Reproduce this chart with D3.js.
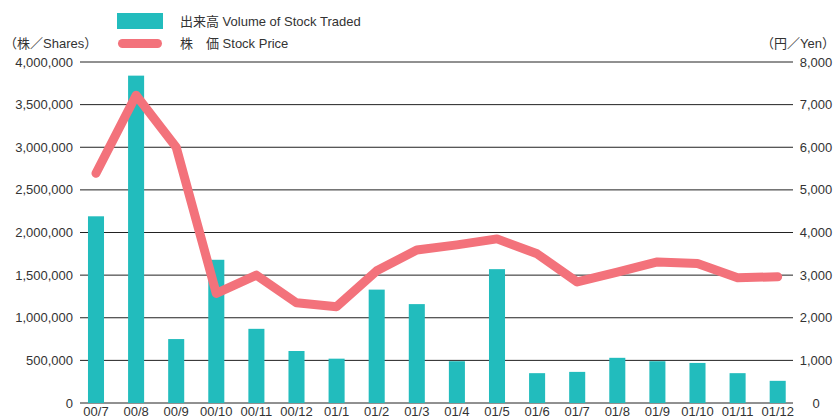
<!DOCTYPE html>
<html>
<head>
<meta charset="utf-8">
<script src="https://cdn.jsdelivr.net/npm/d3@7/dist/d3.min.js"></script>
<style>
  html, body { margin: 0; padding: 0; background: #fff; }
  svg { display: block; }
  text { font-family: "Liberation Sans", Arial, "Noto Sans CJK JP", sans-serif; fill: #333; font-size: 13px; }
</style>
</head>
<body>
<svg id="chart" width="835" height="420"></svg>
<script>
// Monthly trading volume (shares) and stock price (yen), Jul 2000 – Dec 2001
const months = ["00/7","00/8","00/9","00/10","00/11","00/12","01/1","01/2","01/3",
                "01/4","01/5","01/6","01/7","01/8","01/9","01/10","01/11","01/12"];
const volume = [2190000, 3840000, 750000, 1680000, 870000, 610000, 520000, 1330000, 1160000,
                490000, 1570000, 350000, 365000, 530000, 490000, 470000, 350000, 260000];
const price  = [5390, 7220, 6000, 2570, 3000, 2350, 2260, 3100, 3590,
                3710, 3850, 3500, 2840, 3070, 3310, 3270, 2940, 2960];
const volumeTicks = [0, 500000, 1000000, 1500000, 2000000, 2500000, 3000000, 3500000, 4000000];
const priceTicks  = [0, 1000, 2000, 3000, 4000, 5000, 6000, 7000, 8000];

const teal = "#22bcbd";
const pink = "#f3727b";

const svg = d3.select("#chart");

const x = d3.scaleBand().domain(months).range([75.95, 797.75]).paddingInner(0.6).paddingOuter(0.3);
const yVol = d3.scaleLinear().domain([0, 4000000]).range([403, 62]);
const yPrice = d3.scaleLinear().domain([0, 8000]).range([403, 62]);

const gridLeft = 80, gridRight = 793;
const fmt = d3.format(",");

// horizontal gridlines
svg.append("g").selectAll("line").data(volumeTicks).join("line")
  .attr("x1", gridLeft).attr("x2", gridRight)
  .attr("y1", d => yVol(d)).attr("y2", d => yVol(d))
  .attr("stroke", "#222").attr("stroke-width", 1);

// left axis labels (shares)
svg.append("g").selectAll("text").data(volumeTicks).join("text")
  .attr("x", 73).attr("y", d => yVol(d) + 4.5)
  .attr("text-anchor", "end")
  .text(d => fmt(d));

// right axis labels (yen)
svg.append("g").selectAll("text").data(priceTicks).join("text")
  .attr("x", 816).attr("y", d => yPrice(d) + 4.5)
  .attr("text-anchor", "middle")
  .text(d => fmt(d));

// volume bars
svg.append("g").selectAll("rect").data(volume).join("rect")
  .attr("x", (d, i) => x(months[i]))
  .attr("width", x.bandwidth())
  .attr("y", d => yVol(d))
  .attr("height", d => yVol(0) - yVol(d))
  .attr("fill", teal);

// price line
const line = d3.line()
  .x((d, i) => x(months[i]) + x.bandwidth() / 2)
  .y(d => yPrice(d));
svg.append("path").datum(price)
  .attr("d", line)
  .attr("fill", "none")
  .attr("stroke", pink)
  .attr("stroke-width", 9)
  .attr("stroke-linejoin", "round")
  .attr("stroke-linecap", "round");

// month labels
svg.append("g").selectAll("text").data(months).join("text")
  .attr("x", d => x(d) + x.bandwidth() / 2)
  .attr("y", 416)
  .attr("text-anchor", "middle")
  .text(d => d);

// axis titles
svg.append("text").attr("x", 4).attr("y", 48).text("（株／Shares）");
svg.append("text").attr("x", 835).attr("y", 48).attr("text-anchor", "end").text("（円／Yen）");

// legend
svg.append("rect").attr("x", 117).attr("y", 13).attr("width", 46).attr("height", 16).attr("fill", teal);
svg.append("text").attr("x", 180).attr("y", 25.5).text("出来高 Volume of Stock Traded");
svg.append("line").attr("x1", 122.5).attr("x2", 157.5).attr("y1", 43.5).attr("y2", 43.5)
  .attr("stroke", pink).attr("stroke-width", 9).attr("stroke-linecap", "round");
svg.append("text").attr("x", 180).attr("y", 48).text("株　価 Stock Price");
</script>
</body>
</html>
